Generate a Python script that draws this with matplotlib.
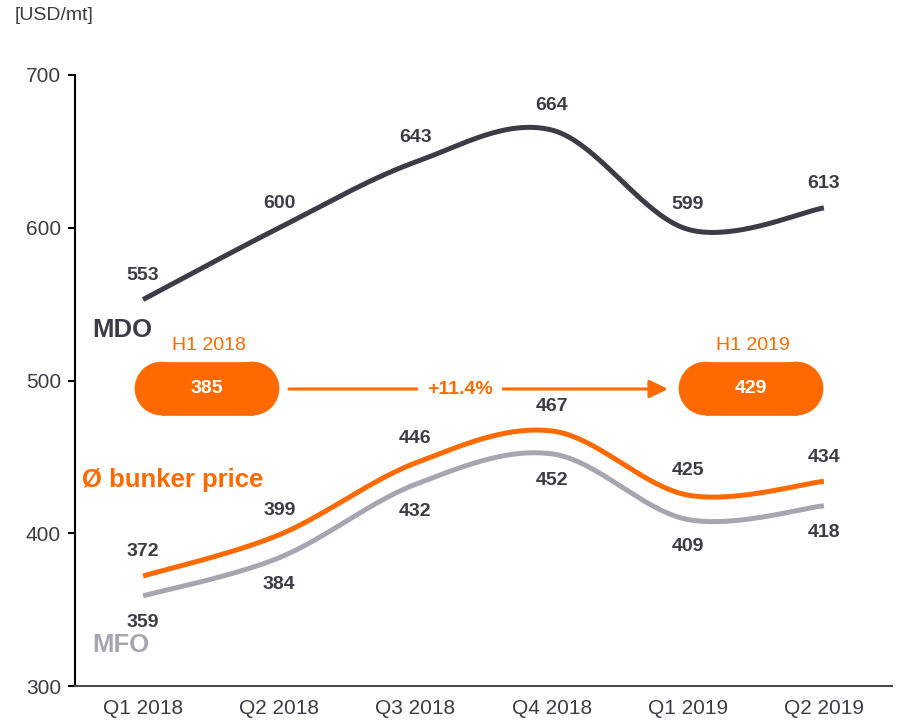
import numpy as np
import matplotlib
matplotlib.use("Agg")
import matplotlib.pyplot as plt
from matplotlib.patches import Rectangle, Circle, FancyArrowPatch

plt.rcParams['font.family'] = ['Liberation Sans', 'DejaVu Sans']

categories = ["Q1 2018", "Q2 2018", "Q3 2018", "Q4 2018", "Q1 2019", "Q2 2019"]
mdo = [553, 600, 643, 664, 599, 613]
bunker = [372, 399, 446, 467, 425, 434]
mfo = [359, 384, 432, 452, 409, 418]
h1_labels = ["H1 2018", "H1 2019"]
h1_values = [385, 429]
change_label = "+11.4%"
unit_label = "[USD/mt]"
yticks = [300, 400, 500, 600, 700]

C_MDO = "#3d3c46"
C_MFO = "#a7a6b0"
C_OR = "#ff6a00"
C_TXT = "#3d3c46"

W, H = 903, 725
fig = plt.figure(figsize=(W / 100, H / 100), dpi=100)
ax = fig.add_axes([75 / W, 1 - 686 / H, (892 - 75) / W, (686 - 75) / H])


def smooth(y, n=40):
    x = np.arange(len(y), dtype=float)
    y = np.asarray(y, dtype=float)
    P = np.column_stack([x, y])
    Pe = np.vstack([P[0], P, P[-1]])
    out = []
    for i in range(len(P) - 1):
        p0, p1, p2, p3 = Pe[i], Pe[i + 1], Pe[i + 2], Pe[i + 3]
        c1 = p1 + (p2 - p0) / 6.0
        c2 = p2 - (p3 - p1) / 6.0
        t = np.linspace(0, 1, n)[:, None]
        seg = ((1 - t) ** 3) * p1 + 3 * ((1 - t) ** 2) * t * c1 + 3 * (1 - t) * t ** 2 * c2 + t ** 3 * p2
        out.append(seg if i == 0 else seg[1:])
    out = np.vstack(out)
    return out[:, 0], out[:, 1]


xs = np.arange(len(categories))
for series, col in [(mfo, C_MFO), (bunker, C_OR), (mdo, C_MDO)]:
    sx, sy = smooth(series)
    ax.plot(sx, sy, color=col, lw=3.6, solid_capstyle='butt', zorder=3)

lab_kw = dict(textcoords='offset points', ha='center', va='center',
              fontsize=14, fontweight='bold', color=C_TXT, zorder=5)
for i, v in enumerate(mdo):
    ax.annotate(str(v), (xs[i], v), xytext=(0, 17.5), **lab_kw)
for i, v in enumerate(bunker):
    ax.annotate(str(v), (xs[i], v), xytext=(0, 17.5), **lab_kw)
for i, v in enumerate(mfo):
    ax.annotate(str(v), (xs[i], v), xytext=(0, -19.5), **lab_kw)

ax.set_xlim(-0.5, len(categories) - 0.5)
ax.set_ylim(300, 700)
ax.set_yticks(yticks)
ax.set_xticks(xs)
ax.set_xticklabels(categories)
ax.tick_params(axis='x', length=0, pad=9, labelsize=15, labelcolor=C_TXT)
ax.tick_params(axis='y', length=5, width=1.5, pad=5, labelsize=15, labelcolor=C_TXT, color='black')
for s in ['top', 'right']:
    ax.spines[s].set_visible(False)
ax.spines['left'].set_color('black')
ax.spines['left'].set_linewidth(1.5)
ax.spines['bottom'].set_color('#4a4a4a')
ax.spines['bottom'].set_linewidth(1.5)


def fx(px):
    return px / W


def fy(py):
    return 1 - py / H


fig.text(fx(92), fy(330), "MDO", fontsize=18.5, fontweight='bold', color=C_MDO, ha='left', va='center')
fig.text(fx(82), fy(480), "Ø bunker price", fontsize=18.5, fontweight='bold', color=C_OR, ha='left', va='center')
fig.text(fx(92), fy(645), "MFO", fontsize=18.5, fontweight='bold', color=C_MFO, ha='left', va='center')
fig.text(fx(15), fy(15), unit_label, fontsize=14, color=C_TXT, ha='left', va='center')

# pills (fully rounded ends)
pills = [(135, 279), (679, 823)]
py0, py1 = 362, 415
r = (py1 - py0) / 2
tr = fig.dpi_scale_trans
for (x0, x1), lab, val in zip(pills, h1_labels, h1_values):
    cy = (H - (py0 + py1) / 2) / 100
    fig.patches.append(Rectangle(((x0 + r) / 100, (H - py1) / 100), (x1 - x0 - 2 * r) / 100, (py1 - py0) / 100,
                                 transform=tr, facecolor=C_OR, edgecolor=C_OR, lw=0.5, zorder=4))
    for ccx in [(x0 + r) / 100, (x1 - r) / 100]:
        fig.patches.append(Circle((ccx, cy), r / 100, transform=tr, facecolor=C_OR, edgecolor=C_OR,
                                  lw=0.5, zorder=4))
    cx = (x0 + x1) / 2
    fig.text(fx(cx), fy((py0 + py1) / 2), str(val), fontsize=14, fontweight='bold', color='white',
             ha='center', va='center', zorder=6)
    fig.text(fx(cx + 2), fy(345), lab, fontsize=14, color=C_OR, ha='center', va='center')

# arrow
ay = 389
fig.add_artist(FancyArrowPatch((fx(289), fy(ay)), (fx(668), fy(ay)),
                               transform=fig.transFigure, arrowstyle='-|>,head_length=8,head_width=3.9',
                               mutation_scale=1.4, color=C_OR, lw=2.2, shrinkA=0, shrinkB=0))
fig.text(fx(460), fy(ay), change_label, fontsize=14, fontweight='bold', color=C_OR, ha='center', va='center',
         bbox=dict(boxstyle='square,pad=0.45', facecolor='white', edgecolor='none'), zorder=7)

fig.savefig("out.png", dpi=100)
